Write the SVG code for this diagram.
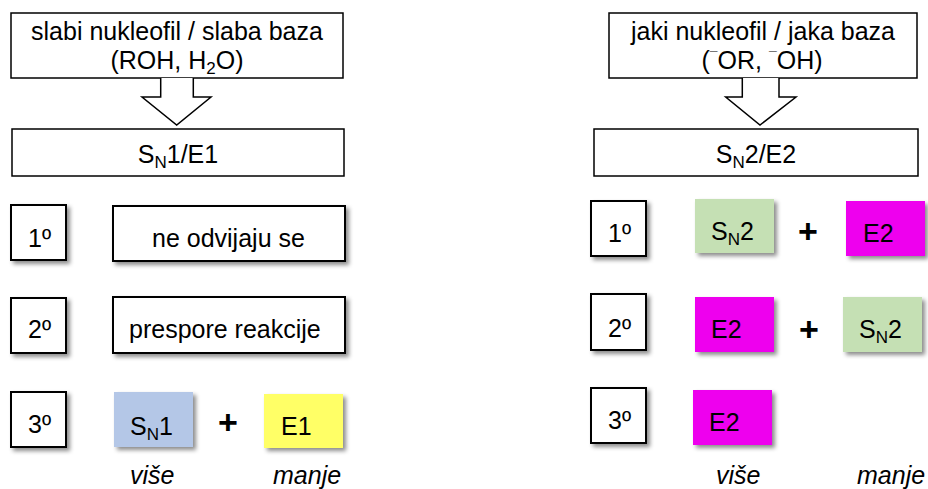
<svg xmlns="http://www.w3.org/2000/svg" width="928" height="489" viewBox="0 0 928 489">
<defs>
<filter id="sh" x="-20%" y="-20%" width="150%" height="160%">
<feDropShadow dx="3" dy="3" stdDeviation="2" flood-color="#000" flood-opacity="0.45"/>
</filter>
</defs>
<style>
text{font-family:"Liberation Sans",Arial,sans-serif;font-size:25px;fill:#000}
.c{text-anchor:middle}
.sub{font-size:17px}
.mac{font-size:14px}
.box{fill:#fff;stroke:#000;stroke-width:1.5}
.deg{fill:#fff;stroke:#000;stroke-width:2;filter:url(#sh)}
.plain{fill:#fff;stroke:#000;stroke-width:2;filter:url(#sh)}
.blue{fill:#b4c7e7;filter:url(#sh)}
.yel{fill:#ffff66;filter:url(#sh)}
.grn{fill:#c5e0b4;filter:url(#sh)}
.mag{fill:#ee00ee;filter:url(#sh)}
.plus{font-size:34px;font-weight:bold}
.it{font-style:italic}
.arr{fill:#fff;stroke:#000;stroke-width:1.5}
</style>

<g id="weak">
<rect class="box" x="11" y="13" width="332" height="65"/>
<text class="c" x="177" y="40">slabi nukleofil / slaba baza</text>
<text class="c" x="177" y="69">(ROH, H<tspan class="sub" dy="5">2</tspan><tspan dy="-5">O)</tspan></text>
</g>
<g id="strong">
<rect class="box" x="609" y="13" width="308" height="65"/>
<text class="c" x="763" y="40">jaki nukleofil / jaka baza</text>
<text class="c" x="762" y="69">(<tspan class="mac" dy="-7">¯</tspan><tspan dy="7">OR, </tspan><tspan class="mac" dy="-7">¯</tspan><tspan dy="7">OH)</tspan></text>
</g>

<g id="connectors">
<polyline class="arr" points="160.7,78 160.7,97 142,97 176.7,125 211,97 193.3,97 193.3,78"/>
<polyline class="arr" points="742.3,78 742.3,97 725.7,97 760,125 796,97 779,97 779,78"/>
</g>

<g id="sn1e1">
<rect class="box" x="12" y="129" width="332" height="47"/>
<text class="c" x="178" y="163">S<tspan class="sub" dy="5">N</tspan><tspan dy="-5">1/E1</tspan></text>
</g>
<g id="sn2e2">
<rect class="box" x="594" y="129" width="324" height="47"/>
<text class="c" x="756" y="163">S<tspan class="sub" dy="5">N</tspan><tspan dy="-5">2/E2</tspan></text>
</g>

<!-- left column -->
<g id="l1">
<rect class="deg" x="11" y="205" width="55" height="55"/>
<text x="28" y="247">1º</text>
</g>
<g id="l1r">
<rect class="plain" x="113" y="206" width="232" height="55"/>
<text x="152" y="247">ne odvijaju se</text>
</g>
<g id="l2">
<rect class="deg" x="11" y="298" width="55" height="55"/>
<text x="28" y="338">2º</text>
</g>
<g id="l2r">
<rect class="plain" x="113" y="297" width="232" height="56"/>
<text x="129" y="338">prespore reakcije</text>
</g>
<g id="l3">
<rect class="deg" x="11" y="392" width="55" height="55"/>
<text x="28" y="433">3º</text>
</g>
<g id="l3a">
<rect class="blue" x="114" y="392" width="79" height="55"/>
<text x="130" y="435">S<tspan class="sub" dy="5">N</tspan><tspan dy="-5">1</tspan></text>
</g>
<text class="plus c" x="228" y="434">+</text>
<g id="l3b">
<rect class="yel" x="264" y="394" width="79" height="54"/>
<text x="281" y="435">E1</text>
</g>
<text class="it" x="130" y="484">više</text>
<text class="it" x="273" y="484">manje</text>

<!-- right column -->
<g id="r1">
<rect class="deg" x="591" y="201" width="55" height="55"/>
<text x="608" y="242">1º</text>
</g>
<g id="r1a">
<rect class="grn" x="695" y="199" width="79" height="54"/>
<text x="711" y="240">S<tspan class="sub" dy="5">N</tspan><tspan dy="-5">2</tspan></text>
</g>
<text class="plus c" x="808" y="243">+</text>
<g id="r1b">
<rect class="mag" x="846" y="201" width="79" height="55"/>
<text x="863" y="242">E2</text>
</g>
<g id="r2">
<rect class="deg" x="591" y="294" width="55" height="56"/>
<text x="608" y="337">2º</text>
</g>
<g id="r2a">
<rect class="mag" x="695" y="297" width="79" height="55"/>
<text x="711" y="338">E2</text>
</g>
<text class="plus c" x="809" y="341">+</text>
<g id="r2b">
<rect class="grn" x="843" y="297" width="79" height="55"/>
<text x="859" y="338">S<tspan class="sub" dy="5">N</tspan><tspan dy="-5">2</tspan></text>
</g>
<g id="r3">
<rect class="deg" x="591" y="388" width="55" height="55"/>
<text x="608" y="429">3º</text>
</g>
<g id="r3a">
<rect class="mag" x="693" y="390" width="79" height="55"/>
<text x="709" y="431">E2</text>
</g>
<text class="it" x="716" y="484">više</text>
<text class="it" x="857" y="484">manje</text>
</svg>
